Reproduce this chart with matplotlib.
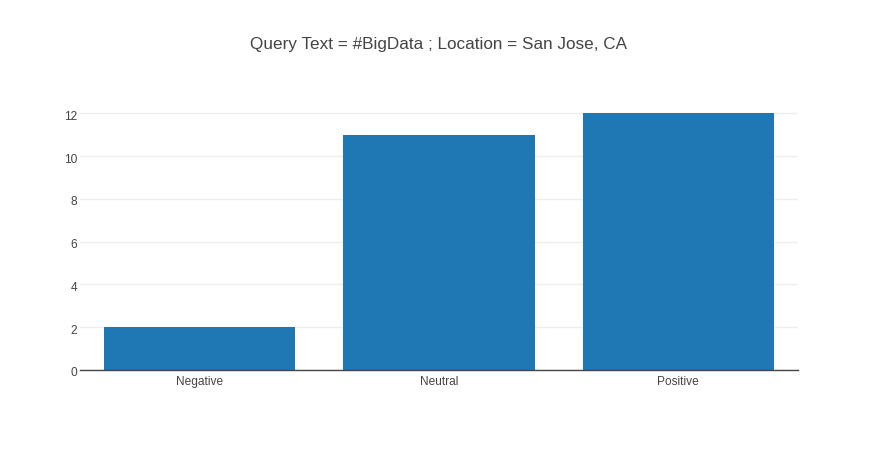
import matplotlib.pyplot as plt
import matplotlib.transforms as mtransforms
import numpy as np

plt.rcParams['font.family'] = ['Liberation Sans', 'DejaVu Sans']

categories = ["Negative", "Neutral", "Positive"]
counts = [2, 11, 12]
title = "Query Text = #BigData ; Location = San Jose, CA"

W, H = 878, 450
fig = plt.figure(figsize=(W / 100, H / 100), dpi=100)
# plotly default margins: l=80, r=80, t=100, b=80
ax = fig.add_axes([80 / W, 80 / H, (W - 160) / W, (H - 180) / H])

x = np.arange(len(categories))
ax.bar(x, counts, width=0.8, color='#1f77b4', zorder=2)

ax.set_xlim(-0.5, len(categories) - 0.5)
ax.set_ylim(0, max(counts) * 1.0526)
ax.set_yticks(range(0, 13, 2))
ax.set_xticks(x)
ax.set_xticklabels(categories)

for s in ['top', 'right', 'left']:
    ax.spines[s].set_visible(False)
ax.spines['bottom'].set_color('#444444')
ax.spines['bottom'].set_linewidth(1.0)
ax.spines['bottom'].set_zorder(3)

ax.grid(axis='y', color='#eeeeee', linewidth=1, zorder=0)
ax.tick_params(axis='both', length=0, labelsize=8.6, colors='#444444')
ax.tick_params(axis='y', pad=2)
ax.tick_params(axis='x', pad=4.5)

# nudge y labels down a little, like plotly does
shift = mtransforms.ScaledTranslation(0, -2 / 100, fig.dpi_scale_trans)
for lab in ax.get_yticklabels():
    lab.set_transform(lab.get_transform() + shift)

fig.text(0.5, 1 - 44 / H, title, ha='center', va='center',
         fontsize=12.3, color='#444444')

fig.savefig('out.png', dpi=100)
